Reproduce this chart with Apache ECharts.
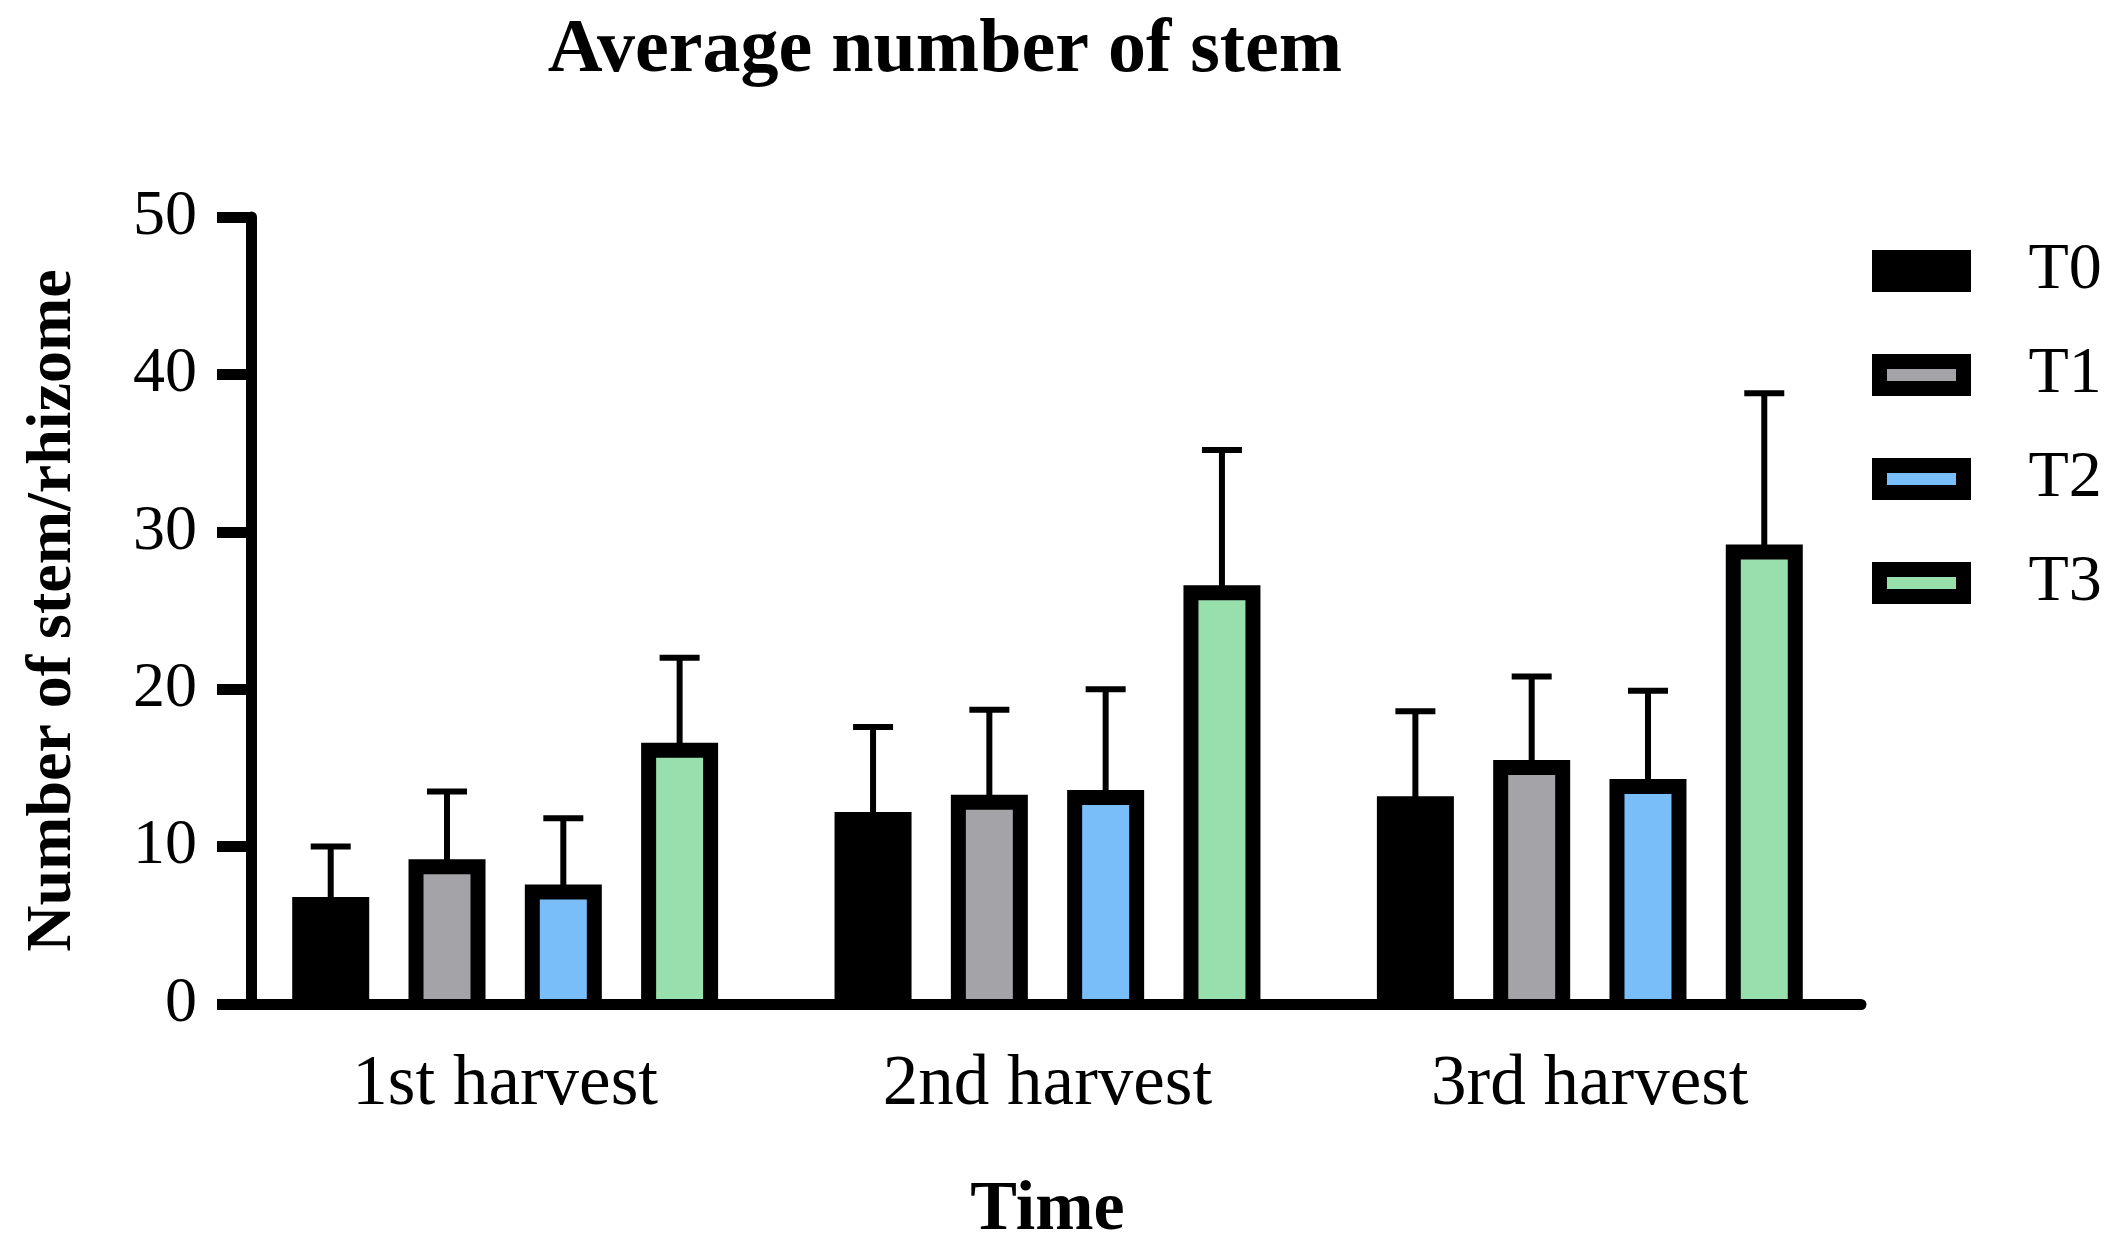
<!DOCTYPE html>
<html>
<head>
<meta charset="utf-8">
<script src="https://cdn.jsdelivr.net/npm/echarts@6/dist/echarts.min.js"></script>
<style>
  html, body { margin: 0; padding: 0; background: #fff; }
  #chart { width: 2128px; height: 1259px; }
</style>
</head>
<body>
<div id="chart"></div>
<script>
// 数据
const categories = ["1st harvest", "2nd harvest", "3rd harvest"];
const seriesNames = ["T0", "T1", "T2", "T3"];
const yTicks = [0, 10, 20, 30, 40, 50];

const meanT0 = [6.8, 12.2, 13.2];
const meanT1 = [9.2, 13.3, 15.5];
const meanT2 = [7.6, 13.6, 14.3];
const meanT3 = [16.6, 26.6, 29.2];

const sdT0 = [3.2, 5.4, 5.4];
const sdT1 = [4.3, 5.4, 5.3];
const sdT2 = [4.2, 6.4, 5.6];
const sdT3 = [5.4, 8.6, 9.6];

const colors = ["#000000", "#a4a4a8", "#7abef9", "#97dfab"];

const means = [meanT0, meanT1, meanT2, meanT3];
const sds = [sdT0, sdT1, sdT2, sdT3];

const font = "Liberation Serif";
const barWidth = 77;
const barStep = 116.3; // 相邻柱子中心距离
const border = 15;

const chart = echarts.init(document.getElementById("chart"));

// 柱子 + 误差线（只画上半部分），底边压在x轴下面
const barSeries = seriesNames.map((name, i) => ({
  name: name,
  type: "custom",
  z: 2,
  encode: { x: 0, y: 1 },
  itemStyle: { color: colors[i], borderColor: "#000", borderWidth: border },
  renderItem: (params, api) => {
    const idx = api.value(0);
    const m = api.value(1);
    const s = api.value(2);
    const zero = api.coord([idx, 0]);
    const top = api.coord([idx, m]);
    const errTop = api.coord([idx, m + s]);
    const cx = zero[0] + (i - 1.5) * barStep;
    const h = border / 2;
    const xl = cx - barWidth / 2 + h;
    const xr = cx + barWidth / 2 - h;
    const yt = top[1] + h;
    const yb = zero[1];
    const line = { stroke: "#000", lineWidth: 6 };
    return {
      type: "group",
      children: [
        { type: "line", shape: { x1: cx, y1: yt, x2: cx, y2: errTop[1] }, style: line },
        { type: "line", shape: { x1: cx - 20, y1: errTop[1], x2: cx + 20, y2: errTop[1] }, style: line },
        { type: "rect", shape: { x: xl, y: yt, width: xr - xl, height: yb - yt }, style: { fill: colors[i] } },
        {
          type: "polyline",
          shape: { points: [[xl, yb], [xl, yt], [xr, yt], [xr, yb]] },
          style: { stroke: "#000", lineWidth: border, fill: null, lineJoin: "miter" },
        },
      ],
    };
  },
  data: categories.map((c, k) => [k, means[i][k], sds[i][k]]),
}));

chart.setOption({
  animation: false,
  backgroundColor: "#fff",
  title: {
    text: "Average number of stem",
    left: 940,
    top: 8,
    textAlign: "center",
    textStyle: { fontFamily: font, fontWeight: "bold", fontSize: 76, color: "#000" },
  },
  legend: {
    orient: "vertical",
    left: 1867,
    top: 233,
    itemWidth: 84,
    itemHeight: 27,
    itemGap: 38,
    icon: "rect",
    data: seriesNames,
    itemStyle: { borderColor: "#000", borderWidth: border },
    textStyle: {
      fontFamily: font,
      fontSize: 66,
      color: "#000",
      padding: [0, 0, 0, 60],
    },
  },
  grid: { left: 234, right: 267, top: 217, bottom: 255 },
  xAxis: {
    type: "category",
    data: categories,
    z: 5,
    name: "Time",
    nameLocation: "middle",
    nameGap: 172,
    nameTextStyle: { fontFamily: font, fontWeight: "bold", fontSize: 70, color: "#000", verticalAlign: "top" },
    axisLine: { lineStyle: { color: "#000", width: 11 } },
    axisTick: { alignWithLabel: true, length: 37, lineStyle: { color: "#000", width: 11 } },
    axisLabel: { fontFamily: font, fontSize: 71, color: "#000", margin: 46 },
  },
  yAxis: {
    type: "value",
    min: yTicks[0],
    max: yTicks[yTicks.length - 1],
    interval: 10,
    offset: -17,
    z: 5,
    name: "Number of stem/rhizome",
    nameLocation: "middle",
    nameGap: 166,
    nameTextStyle: { fontFamily: font, fontWeight: "bold", fontSize: 64, color: "#000" },
    splitLine: { show: false },
    axisLine: { show: true, lineStyle: { color: "#000", width: 11 } },
    axisTick: { show: true, length: 34, lineStyle: { color: "#000", width: 11 } },
    axisLabel: { fontFamily: font, fontSize: 64, color: "#000", margin: 54 },
  },
  series: barSeries,
});
</script>
</body>
</html>
